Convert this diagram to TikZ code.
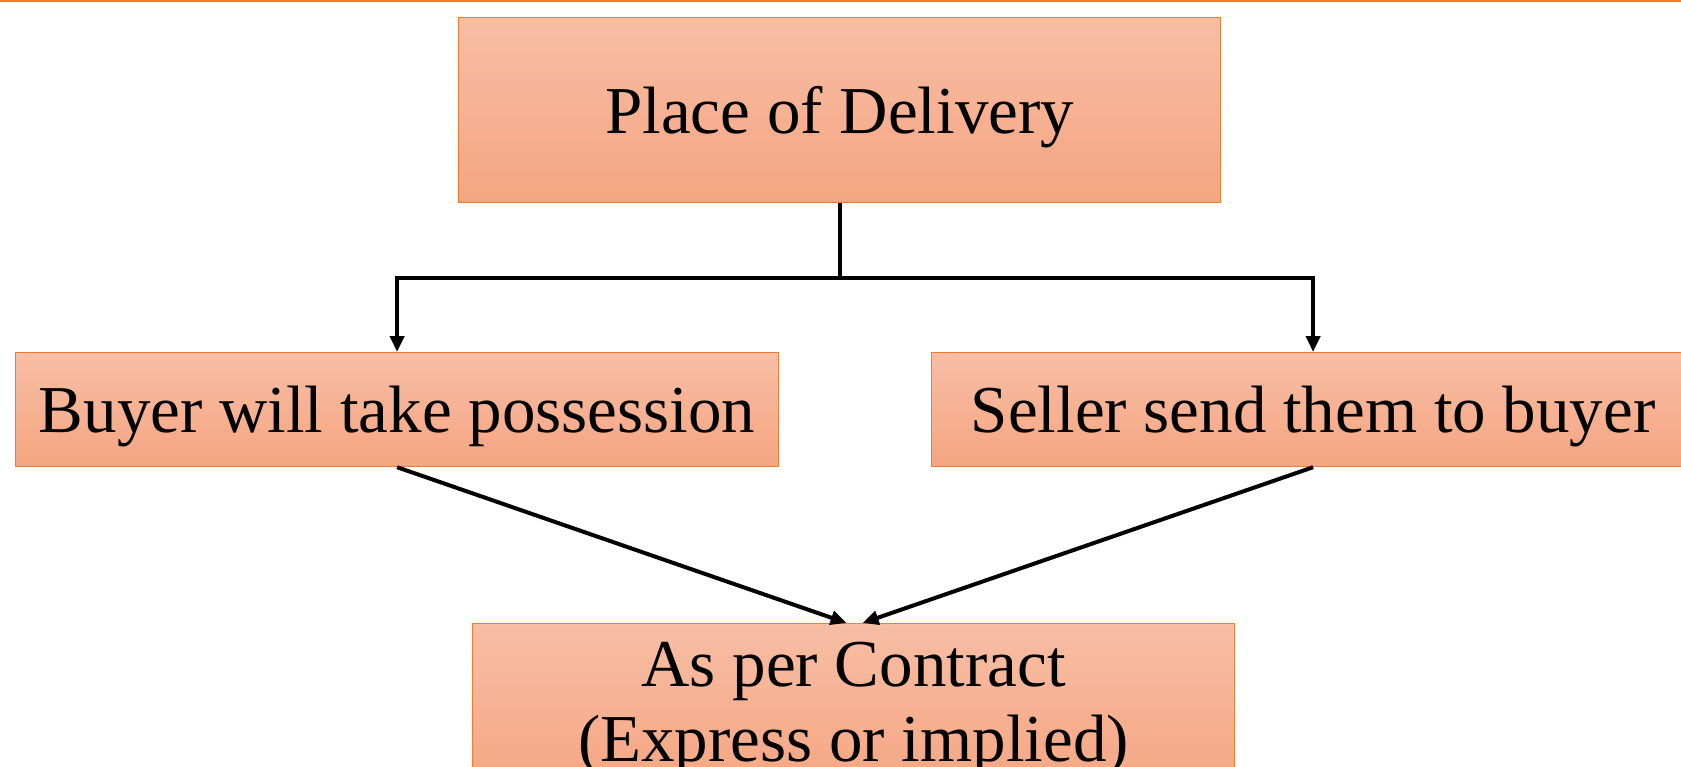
\documentclass[tikz,border=0pt]{standalone}
\usepackage{fontspec}
\setmainfont{Liberation Serif}
\usetikzlibrary{calc,arrows.meta}
\definecolor{accent}{RGB}{237,125,49}
\definecolor{boxtop}{RGB}{247,190,165}
\definecolor{boxbot}{RGB}{245,165,129}
\tikzstyle{box} = [rectangle, draw=accent, line width=0.6pt, top color=boxtop, bottom color=boxbot, text centered, font=\fontsize{33.5}{37.5}\selectfont]
\tikzstyle{oneline} = [box, text height=26pt, text depth=2.9pt]
\tikzstyle{conn} = [line width=2pt, -{Triangle[length=8pt,width=7pt]}]

\begin{document}
\begin{tikzpicture}[x=0.5pt,y=-0.5pt]
            \useasboundingbox (0,0) rectangle (1681,766);
            \clip (0,0) rectangle (1681,766);
            \draw [accent, line width=1pt] (0,1) -- (1681,1);

            \node (place) [oneline, minimum width=381pt, minimum height=92.5pt, anchor=north west] at (458,17) {Place of Delivery};
            \node (buyer) [oneline, minimum width=381.5pt, minimum height=57pt, anchor=north west] at (15,352) {Buyer will take possession};
            \node (seller) [oneline, minimum width=381.5pt, minimum height=57pt, anchor=north west] at (931,352) {Seller send them to buyer};
            \node (contract) [box, minimum width=381pt, minimum height=85pt, anchor=north west, align=center] at (472,623) {As per Contract\\(Express or implied)};

            \coordinate (fork) at ($(place.south)+(0,75)$);
            \draw [line width=2pt] (place.south) -- (fork);
            \draw [conn] (fork) -| (buyer.north);
            \draw [conn] (fork) -| (seller.north);

            \draw [conn] (buyer.south) -- ($(contract.north)+(-7,0)$);
            \draw [conn] (seller.south) -- ($(contract.north)+(9,0)$);
        \end{tikzpicture}
\end{document}
